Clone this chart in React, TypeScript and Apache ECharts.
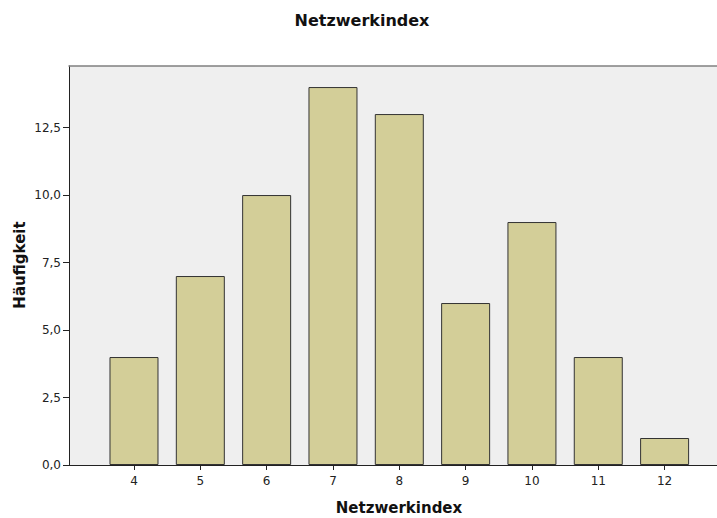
import React, { useEffect, useRef } from "react";
import * as echarts from "echarts";

const categories = [4, 5, 6, 7, 8, 9, 10, 11, 12];
const frequencies = [4, 7, 10, 14, 13, 6, 9, 4, 1];
const yTicks = [0, 2.5, 5, 7.5, 10, 12.5];
const titleText = "Netzwerkindex";
const xName = "Netzwerkindex";
const yName = "Häufigkeit";

export default function App() {
  const ref = useRef<HTMLDivElement>(null);
  useEffect(() => {
    const chart = echarts.init(ref.current!, null, { renderer: "svg" });
    const font = "'DejaVu Sans', Verdana, sans-serif";
    chart.setOption({
      animation: false,
      backgroundColor: "#ffffff",
      grid: {
        left: 69,
        top: 66,
        bottom: 53,
        right: 0,
        show: true,
        backgroundColor: "#efefef",
        borderWidth: 0,
      },
      xAxis: [
        {
          type: "value",
          min: 3.02,
          max: 12.79,
          splitLine: { show: false },
          axisLine: { show: true, lineStyle: { color: "#222", width: 1 } },
          axisTick: { show: true, length: 5, lineStyle: { color: "#222" }, customValues: categories },
          axisLabel: {
            customValues: categories,
            margin: 10,
            fontFamily: font,
            fontSize: 12,
            color: "#222",
            formatter: (v: number) => String(v),
          },
        },
        {
          type: "value",
          position: "top",
          min: 3.02,
          max: 12.79,
          splitLine: { show: false },
          axisLine: { show: true, lineStyle: { color: "#808080", width: 1.5 } },
          axisTick: { show: false },
          axisLabel: { show: false },
        },
      ],
      yAxis: {
        type: "value",
        min: 0,
        max: 14.78,
        splitLine: { show: false },
        axisLine: { show: true, lineStyle: { color: "#222", width: 1 } },
        axisTick: { show: true, length: 6, lineStyle: { color: "#222" }, customValues: yTicks },
        axisLabel: {
          customValues: yTicks,
          margin: 8,
          fontFamily: font,
          fontSize: 12,
          color: "#222",
          formatter: (v: number) => v.toFixed(1).replace(".", ","),
        },
      },
      graphic: [
        {
          type: "text",
          x: 362,
          y: 20,
          style: {
            text: titleText,
            font: `bold 16px ${font}`,
            fill: "#111",
            align: "center",
            verticalAlign: "middle",
          },
        },
        {
          type: "text",
          x: 399,
          y: 508,
          style: {
            text: xName,
            font: `bold 15px ${font}`,
            fill: "#111",
            align: "center",
            verticalAlign: "middle",
          },
        },
        {
          type: "text",
          x: 20,
          y: 265,
          rotation: Math.PI / 2,
          style: {
            text: yName,
            font: `bold 15px ${font}`,
            fill: "#111",
            align: "center",
            verticalAlign: "middle",
          },
        },
      ],
      series: [
        {
          type: "bar",
          xAxisIndex: 0,
          barWidth: 49,
          data: categories.map((c, i) => [c, frequencies[i]]),
          itemStyle: { color: "#d3ce98", borderColor: "#333", borderWidth: 1 },
        },
      ],
    });
    return () => chart.dispose();
  }, []);
  return (
    <div
      ref={ref}
      style={{ position: "fixed", left: 0, top: 0, width: 717, height: 518 }}
    />
  );
}
